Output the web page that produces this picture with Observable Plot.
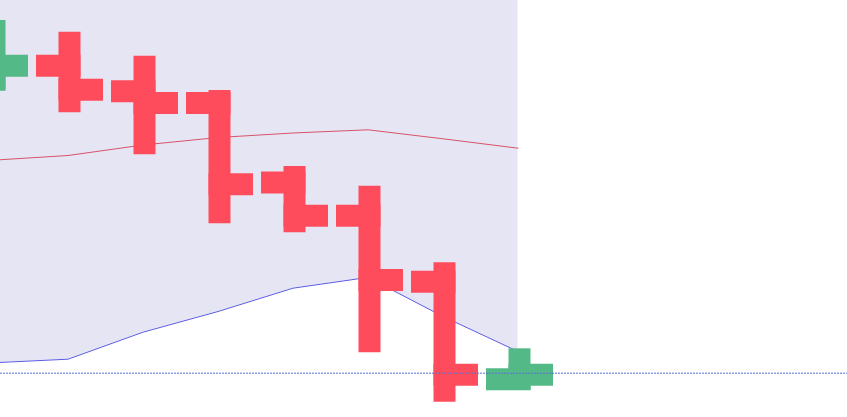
<!DOCTYPE html>
<html>
<head>
<meta charset="utf-8">
<script src="https://cdn.jsdelivr.net/npm/d3@7"></script>
<script src="https://cdn.jsdelivr.net/npm/@observablehq/plot@0.6"></script>
<style>
  html, body { margin: 0; padding: 0; background: #fff; overflow: hidden; }
  #chart svg { display: block; }
</style>
</head>
<body>
<div id="chart"></div>
<script>
// ---- data ----
const dates      = ["2024-01-01","2024-01-02","2024-01-03","2024-01-04","2024-01-05","2024-01-06","2024-01-07","2024-01-08"];
const open       = [129.50, 130.75, 128.19, 127.02, 119.07, 115.75, 109.15,  99.40];
const high       = [134.17, 133.00, 130.60, 127.17, 119.57, 117.60, 109.94, 101.34];
const low        = [129.30, 127.14, 122.94, 116.04, 115.14, 103.14,  98.20,  99.40];
const close      = [130.75, 128.35, 127.02, 118.90, 115.75, 109.32,  99.84,  99.84];
const middleBand = [121.30, 121.77, 122.82, 123.57, 124.02, 124.34, 123.44, 122.50];
const lowerBand  = [101.04, 101.40, 104.10, 106.17, 108.50, 109.58, 105.67, 102.17];
const upperBand  = [141.56, 142.14, 141.54, 140.97, 139.54, 139.10, 141.21, 142.83];
const referenceLevel = 100;

const upColor = "#53B987";
const downColor = "#FF4C5D";
const DAY = 864e5;

const rows = dates.map((d, i) => ({
  date: new Date(d + "T00:00:00Z"),
  open: open[i], high: high[i], low: low[i], close: close[i],
  mid: middleBand[i], lower: lowerBand[i], upper: upperBand[i]
}));
const t0 = rows[0].date.getTime();
const barColor = d => d.close >= d.open ? upColor : downColor;

const chart = Plot.plot({
  width: 847,
  height: 417,
  margin: 0,
  style: { background: "#fff" },
  x: { type: "utc", domain: [new Date(t0 + 0.08 * DAY), new Date(t0 + (0.08 + 847 / 75) * DAY)], axis: null },
  y: { domain: [95.57, 137.27], axis: null },
  color: { type: "identity" },
  marks: [
    Plot.areaY(rows, { x: "date", y1: "lower", y2: "upper", fill: "#E5E5F3", dx: -1.5, clip: true }),
    Plot.lineY(rows, { x: "date", y: "upper", stroke: "#5A5AE6", strokeWidth: 1, dx: -1.5, clip: true }),
    Plot.lineY(rows, { x: "date", y: "mid", stroke: "#D9536A", strokeWidth: 1, dx: -1.5, clip: true }),
    Plot.lineY(rows, { x: "date", y: "lower", stroke: "#5A5AE6", strokeWidth: 1, dx: -1.5, clip: true }),
    Plot.ruleX(rows, { x: "date", y1: "low", y2: "high", stroke: barColor, strokeWidth: 22, strokeLinecap: "square", clip: true }),
    Plot.link(rows, { x1: d => new Date(+d.date - 0.3 * DAY), x2: "date", y1: "open", y2: "open", stroke: barColor, strokeWidth: 22, strokeLinecap: "square", clip: true }),
    Plot.link(rows, { x1: "date", x2: d => new Date(+d.date + 0.3 * DAY), y1: "close", y2: "close", stroke: barColor, strokeWidth: 22, strokeLinecap: "square", clip: true }),
    Plot.ruleY([referenceLevel], { stroke: "#5B6FD6", strokeWidth: 1, strokeDasharray: "2,1" })
  ]
});
document.getElementById("chart").appendChild(chart);
</script>
</body>
</html>
